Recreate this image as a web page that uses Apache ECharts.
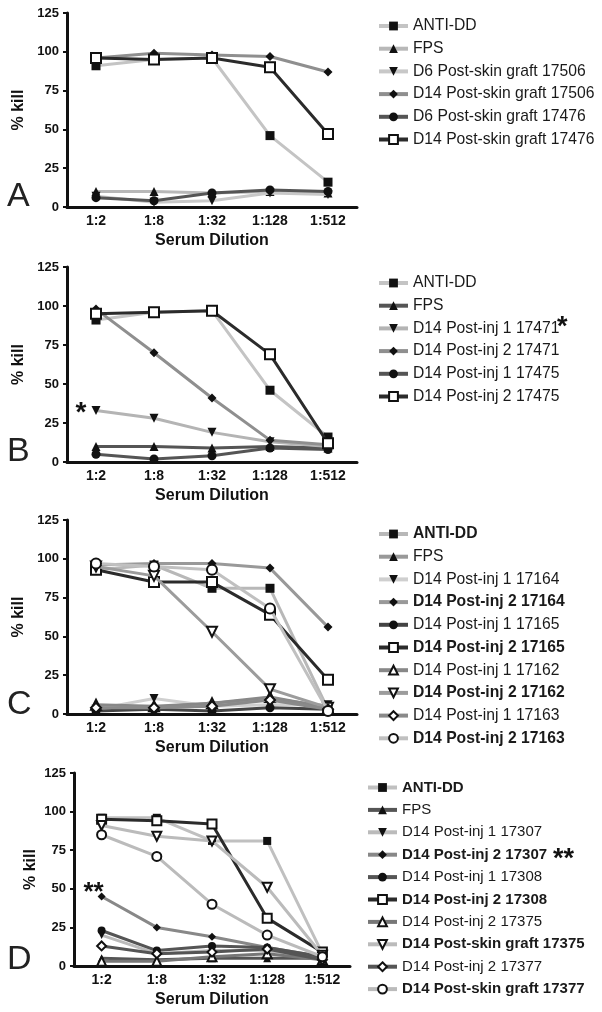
<!DOCTYPE html>
<html><head><meta charset="utf-8">
<script src="https://cdn.jsdelivr.net/npm/echarts@6/dist/echarts.min.js"></script>
<style>
html,body{margin:0;padding:0;background:#fff;width:602px;height:1012px;overflow:hidden}
.p{position:absolute;left:0;width:602px}
</style></head>
<body>
<div id="pa" class="p" style="top:0;height:250px"></div>
<div id="pb" class="p" style="top:245px;height:260px"></div>
<div id="pc" class="p" style="top:500px;height:262px"></div>
<div id="pd" class="p" style="top:750px;height:262px"></div>
<script>
// ---------- shared ----------
const dilutions = ['1:2', '1:8', '1:32', '1:128', '1:512'];
const yTickValues = [0, 25, 50, 75, 100, 125];

// ---------- Panel A ----------
const namesA = ['ANTI-DD', 'FPS', 'D6 Post-skin graft 17506', 'D14 Post-skin graft 17506', 'D6 Post-skin graft 17476', 'D14 Post-skin graft 17476'];
const antiDD_A = [91, 95, 96, 46, 16];
const fps_A = [10, 10, 9, 10, 9];
const d6skin_17506 = [7, 3, 4, 9, 8];
const d14skin_17506 = [96, 99, 98, 97, 87];
const d6skin_17476 = [6, 4, 9, 11, 10];
const d14skin_17476 = [96, 95, 96, 90, 47];

// ---------- Panel B ----------
const namesB = ['ANTI-DD', 'FPS', 'D14 Post-inj 1 17471', 'D14 Post-inj 2 17471', 'D14 Post-inj 1 17475', 'D14 Post-inj 2 17475'];
const antiDD_B = [91, 96, 97, 46, 16];
const fps_B = [10, 10, 9, 10, 9];
const inj1_17471 = [33, 28, 19, 13, 10];
const inj2_17471 = [98, 70, 41, 14, 11];
const inj1_17475 = [5, 2, 4, 9, 8];
const inj2_17475 = [95, 96, 97, 69, 12];

// ---------- Panel C ----------
const namesC = ['ANTI-DD', 'FPS', 'D14 Post-inj 1 17164', 'D14 Post-inj 2 17164', 'D14 Post-inj 1 17165', 'D14 Post-inj 2 17165', 'D14 Post-inj 1 17162', 'D14 Post-inj 2 17162', 'D14 Post-inj 1 17163', 'D14 Post-inj 2 17163'];
const antiDD_C = [93, 96, 81, 81, 3];
const fps_C = [5, 4, 7, 10, 5];
const inj1_17164 = [3, 10, 5, 6, 6];
const inj2_17164 = [96, 97, 97, 94, 56];
const inj1_17165 = [2, 3, 2, 4, 3];
const inj2_17165 = [93, 85, 85, 64, 22];
const inj1_17162 = [6, 5, 7, 11, 4];
const inj2_17162 = [95, 89, 53, 16, 4];
const inj1_17163 = [4, 4, 5, 9, 3];
const inj2_17163 = [97, 95, 93, 68, 2];

// ---------- Panel D ----------
const namesD = ['ANTI-DD', 'FPS', 'D14 Post-inj 1 17307', 'D14 Post-inj 2 17307', 'D14 Post-inj 1 17308', 'D14 Post-inj 2 17308', 'D14 Post-inj 2 17375', 'D14 Post-skin graft 17375', 'D14 Post-inj 2 17377', 'D14 Post-skin graft 17377'];
const antiDD_D = [96, 96, 81, 81, 8];
const fps_D = [5, 4, 5, 5, 5];
const inj1_17307 = [20, 8, 10, 10, 5];
const inj2_17307 = [45, 25, 19, 12, 6];
const inj1_17308 = [23, 10, 13, 12, 6];
const inj2_17308 = [95, 94, 92, 31, 9];
const inj2_17375 = [3, 3, 6, 8, 4];
const skin_17375 = [91, 84, 81, 51, 7];
const inj2_17377 = [13, 8, 9, 11, 4];
const skin_17377 = [85, 71, 40, 20, 6];

// ---------- styles ----------
const FONT = '"Liberation Sans", Arial, Helvetica, sans-serif';
const stylesA = [
  {line: '#c4c4c4', sym: 'rect'},
  {line: '#b8b8b8', sym: 'triangle'},
  {line: '#c8c8c8', sym: 'triangle', rot: 180},
  {line: '#8f8f8f', sym: 'diamond'},
  {line: '#555555', sym: 'circle'},
  {line: '#2b2b2b', sym: 'emptyRect'}
];
const stylesB = [
  {line: '#c4c4c4', sym: 'rect'},
  {line: '#555555', sym: 'triangle'},
  {line: '#b4b4b4', sym: 'triangle', rot: 180},
  {line: '#8f8f8f', sym: 'diamond'},
  {line: '#555555', sym: 'circle'},
  {line: '#2b2b2b', sym: 'emptyRect'}
];
const stylesC = [
  {line: '#b8b8b8', sym: 'rect'},
  {line: '#999999', sym: 'triangle'},
  {line: '#cfcfcf', sym: 'triangle', rot: 180},
  {line: '#999999', sym: 'diamond'},
  {line: '#444444', sym: 'circle'},
  {line: '#2b2b2b', sym: 'emptyRect'},
  {line: '#888888', sym: 'emptyTriangle'},
  {line: '#9c9c9c', sym: 'emptyTriangle', rot: 180},
  {line: '#8a8a8a', sym: 'emptyDiamond'},
  {line: '#c0c0c0', sym: 'emptyCircle'}
];
const boldC = [true, false, false, true, false, true, false, true, false, true];
const stylesD = [
  {line: '#c0c0c0', sym: 'rect'},
  {line: '#555555', sym: 'triangle'},
  {line: '#bbbbbb', sym: 'triangle', rot: 180},
  {line: '#888888', sym: 'diamond'},
  {line: '#555555', sym: 'circle'},
  {line: '#2b2b2b', sym: 'emptyRect'},
  {line: '#777777', sym: 'emptyTriangle'},
  {line: '#bbbbbb', sym: 'emptyTriangle', rot: 180},
  {line: '#555555', sym: 'emptyDiamond'},
  {line: '#bbbbbb', sym: 'emptyCircle'}
];
const boldD = [true, false, false, true, false, true, false, true, false, true];

function build(id, p) {
  const chart = echarts.init(document.getElementById(id), null, {renderer: 'canvas'});
  const series = p.names.map((name, i) => {
    const st = p.styles[i];
    const empty = st.sym.indexOf('empty') === 0;
    const data = p.values[i].map((v, j) => {
      if (p.annot && p.annot.series === i && p.annot.index === j) {
        return {value: v, label: Object.assign({show: true, color: '#111', fontFamily: FONT}, p.annot.label)};
      }
      return v;
    });
    return {
      name: name, type: 'line', data: data,
      symbol: st.sym, symbolRotate: st.rot || 0,
      symbolSize: empty ? p.sym + 1 : p.sym,
      lineStyle: {color: st.line, width: 3},
      itemStyle: {color: '#111', borderColor: '#111', borderWidth: empty ? 2 : 0},
      emphasis: {disabled: true},
      silent: true,
      animation: false,
      z: 2 + i
    };
  });
  const legendData = p.names.map((n, i) => {
    const o = {name: n};
    if (p.bold && p.bold[i]) o.textStyle = {fontWeight: 'bold'};
    return o;
  });
  const graphics = [{
    type: 'text', left: 7, top: p.letterTop,
    style: {text: p.letter, font: 'normal 34px ' + FONT, fill: '#222'}
  }];
  if (p.legendStar) {
    graphics.push({
      type: 'text', left: p.legendStar.left, top: p.legendStar.top,
      style: {text: p.legendStar.text, font: 'bold 27px ' + FONT, fill: '#111'}
    });
  }
  chart.setOption({
    animation: false,
    grid: Object.assign({outerBoundsMode: 'none', containLabel: false}, p.grid),
    xAxis: {
      type: 'category', data: dilutions, boundaryGap: true,
      axisLine: {lineStyle: {color: '#111', width: 3}},
      axisTick: {show: false},
      axisLabel: {color: '#111', fontFamily: FONT, fontWeight: 'bold', fontSize: 14, margin: 7},
      name: 'Serum Dilution', nameLocation: 'middle', nameGap: p.xNameGap,
      nameTextStyle: {color: '#111', fontFamily: FONT, fontWeight: 'bold', fontSize: 16}
    },
    yAxis: {
      type: 'value', min: yTickValues[0], max: yTickValues[yTickValues.length - 1],
      interval: yTickValues[1] - yTickValues[0],
      axisLine: {show: true, lineStyle: {color: '#111', width: 3}},
      axisTick: {show: true, length: 4, lineStyle: {color: '#111', width: 2}},
      splitLine: {show: false},
      axisLabel: {color: '#111', fontFamily: FONT, fontWeight: 'bold', fontSize: 13, margin: 8},
      name: '% kill', nameLocation: 'middle', nameGap: p.yNameGap,
      nameTextStyle: {color: '#111', fontFamily: FONT, fontWeight: 'bold', fontSize: 16}
    },
    legend: {
      orient: 'vertical', left: p.legend.left, top: p.legend.top, height: 240,
      padding: 0,
      itemWidth: 29, itemHeight: 11, itemGap: 22.4 - p.legendFont,
      selectedMode: false,
      lineStyle: {width: 4},
      textStyle: {fontFamily: FONT, fontSize: p.legendFont, lineHeight: p.legendFont, color: '#1a1a1a'},
      data: legendData
    },
    graphic: graphics,
    series: series
  });
}

build('pa', {
  names: namesA,
  values: [antiDD_A, fps_A, d6skin_17506, d14skin_17506, d6skin_17476, d14skin_17476],
  styles: stylesA, sym: 9,
  grid: {left: 67, top: 13, width: 290, height: 194},
  legend: {left: 377, top: 18}, legendFont: 15.7,
  xNameGap: 24, yNameGap: 40, letter: 'A', letterTop: 180
});
build('pb', {
  names: namesB,
  values: [antiDD_B, fps_B, inj1_17471, inj2_17471, inj1_17475, inj2_17475],
  styles: stylesB, sym: 9,
  grid: {left: 67, top: 22, width: 290, height: 195},
  legend: {left: 377, top: 30}, legendFont: 15.7,
  legendStar: {text: '*', left: 557, top: 69},
  annot: {series: 2, index: 0, label: {formatter: '*', position: 'left', distance: 5, offset: [0, 3], fontSize: 28, fontWeight: 'bold'}},
  xNameGap: 24, yNameGap: 40, letter: 'B', letterTop: 190
});
build('pc', {
  names: namesC,
  values: [antiDD_C, fps_C, inj1_17164, inj2_17164, inj1_17165, inj2_17165, inj1_17162, inj2_17162, inj1_17163, inj2_17163],
  styles: stylesC, bold: boldC, sym: 9,
  grid: {left: 67, top: 20, width: 290, height: 194},
  legend: {left: 377, top: 26}, legendFont: 15.7,
  xNameGap: 24, yNameGap: 40, letter: 'C', letterTop: 188
});
build('pd', {
  names: namesD,
  values: [antiDD_D, fps_D, inj1_17307, inj2_17307, inj1_17308, inj2_17308, inj2_17375, skin_17375, inj2_17377, skin_17377],
  styles: stylesD, bold: boldD, sym: 8,
  grid: {left: 74, top: 23, width: 276, height: 193},
  legend: {left: 366, top: 30}, legendFont: 15,
  legendStar: {text: '**', left: 553, top: 96},
  annot: {series: 3, index: 0, label: {formatter: '**', position: 'inside', offset: [-8, -4], fontSize: 26, fontWeight: 'bold'}},
  xNameGap: 23, yNameGap: 35, letter: 'D', letterTop: 193
});
</script>
</body></html>
